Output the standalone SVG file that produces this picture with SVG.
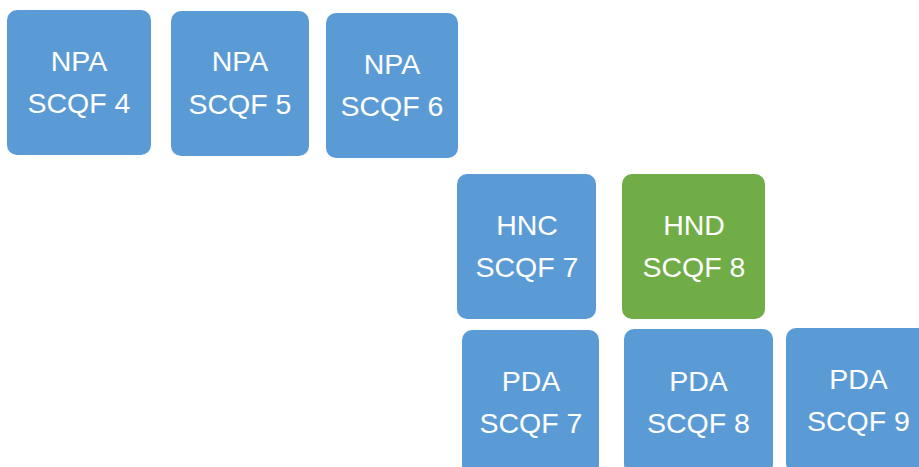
<svg xmlns="http://www.w3.org/2000/svg" width="919" height="467" viewBox="0 0 919 467">
<style>
.box{fill:#5B9BD5;}
.green{fill:#70AD47;}
text{font-family:"Liberation Sans",Arial,sans-serif;font-size:28.5px;fill:#ffffff;text-anchor:middle;}
</style>
<rect width="919" height="467" fill="#ffffff"/>
<g id="npa4"><rect class="box" x="7" y="10" width="144" height="145" rx="10"/><text x="79" y="71">NPA</text><text x="79" y="113">SCQF 4</text></g>
<g id="npa5"><rect class="box" x="171" y="11" width="138" height="145" rx="10"/><text x="240" y="71">NPA</text><text x="240" y="113.5">SCQF 5</text></g>
<g id="npa6"><rect class="box" x="326" y="13" width="132" height="145" rx="10"/><text x="392" y="74">NPA</text><text x="392" y="116">SCQF 6</text></g>
<g id="hnc7"><rect class="box" x="457" y="174" width="139" height="145" rx="10"/><text x="527" y="235">HNC</text><text x="527" y="277">SCQF 7</text></g>
<g id="hnd8"><rect class="green" x="622" y="174" width="143" height="145" rx="10"/><text x="694" y="235">HND</text><text x="694" y="277">SCQF 8</text></g>
<g id="pda7"><rect class="box" x="462" y="330" width="137" height="145" rx="10"/><text x="531" y="391">PDA</text><text x="531" y="433">SCQF 7</text></g>
<g id="pda8"><rect class="box" x="624" y="329" width="149" height="145" rx="10"/><text x="698.5" y="391">PDA</text><text x="698.5" y="432.5">SCQF 8</text></g>
<g id="pda9"><rect class="box" x="786" y="328" width="145" height="145" rx="10"/><text x="858.5" y="389">PDA</text><text x="858.5" y="431">SCQF 9</text></g>
<g id="connectors"></g>
</svg>
